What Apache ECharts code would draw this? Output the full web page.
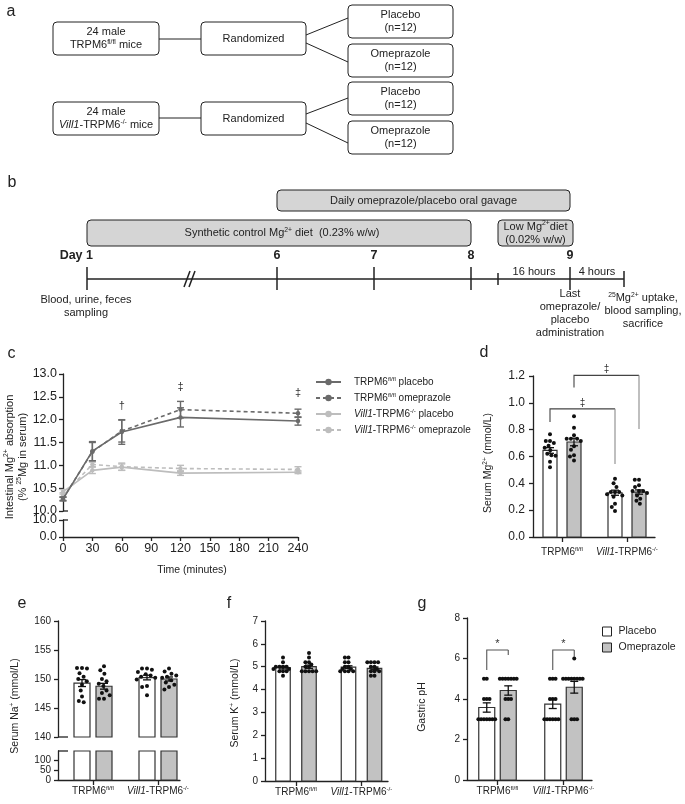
<!DOCTYPE html>
<html>
<head>
<meta charset="utf-8">
<title>TRPM6 omeprazole figure</title>
<script src="https://cdn.jsdelivr.net/npm/echarts@6.0.0/dist/echarts.min.js"></script>
<style>
html,body{margin:0;padding:0;background:#ffffff;}
#chart{width:685px;height:804px;}
</style>
</head>
<body>
<div id="chart"></div>
<script>
// ================= DATA =================
// Panel c: intestinal 25Mg absorption over time
const timePoints     = [0, 30, 60, 120, 240];
const ctrlPlaceboAbs = [10.26, 11.31, 11.73, 12.05, 11.97];
const ctrlPlaceboSem = [0.04, 0.21, 0.27, 0.21, 0.09];
const ctrlOmepAbs    = [10.27, 11.30, 11.75, 12.22, 12.14];
const ctrlOmepSem    = [0.04, 0.20, 0.24, 0.18, 0.09];
const vilPlaceboAbs  = [10.42, 10.89, 10.96, 10.83, 10.85];
const vilPlaceboSem  = [0.05, 0.07, 0.07, 0.05, 0.03];
const vilOmepAbs     = [10.35, 11.02, 10.97, 10.93, 10.91];
const vilOmepSem     = [0.05, 0.05, 0.08, 0.07, 0.06];
const absMarkTimes   = [60, 120, 240];
const absMarkLevels  = [12.30, 12.72, 12.58];
const absMarkSymbols = ['\u2020', '\u2021', '\u2021'];

// Genotype category labels (rich text)
const genotypeLabels = ['{n|TRPM6}{sup|fl/fl}', '{i|Vill1}{n|-TRPM6}{sup|-/-}'];

// Panel d: serum Mg2+
const mgPlaceboMean = [0.645, 0.330];
const mgOmepMean    = [0.708, 0.335];
const mgPlaceboSem  = [0.021, 0.019];
const mgOmepSem     = [0.028, 0.016];
const mgPlaceboDots = [
  [0.765, 0.715, 0.715, 0.70, 0.68, 0.666, 0.646, 0.62, 0.61, 0.605, 0.56, 0.52],
  [0.435, 0.40, 0.373, 0.335, 0.335, 0.335, 0.318, 0.31, 0.30, 0.248, 0.224, 0.194]
];
const mgOmepDots = [
  [0.90, 0.815, 0.758, 0.733, 0.733, 0.733, 0.715, 0.676, 0.65, 0.61, 0.60, 0.571],
  [0.427, 0.427, 0.385, 0.373, 0.343, 0.343, 0.343, 0.328, 0.31, 0.286, 0.27, 0.248]
];
const mgBrackets = [
  {from: [0, 'p'], to: [1, 'p'], top: 0.955, left: 0.857, right: 0.545, labelAt: 0.995, label: '\u2021'},
  {from: [0, 'o'], to: [1, 'o'], top: 1.205, left: 1.115, right: 0.805, labelAt: 1.252, label: '\u2021'}
];

// Panel e: serum Na+
const naPlaceboMean = [149.3, 150.25];
const naOmepMean    = [148.75, 150.0];
const naPlaceboSem  = [0.6, 0.4];
const naOmepSem     = [0.5, 0.35];
const naPlaceboDots = [
  [151.9, 151.9, 151.8, 151.0, 150.4, 150.0, 149.6, 149.0, 148.0, 147.0, 146.2, 146.0],
  [151.8, 151.8, 151.6, 151.2, 150.8, 150.6, 150.4, 150.2, 149.9, 148.8, 148.6, 147.2]
];
const naOmepDots = [
  [152.2, 151.5, 150.9, 150.0, 149.6, 149.2, 148.8, 148.0, 147.6, 147.2, 146.6, 146.6],
  [151.8, 151.3, 150.9, 150.6, 150.4, 150.2, 150.0, 149.8, 149.4, 149.0, 148.6, 148.2]
];

// Panel f: serum K+
const kPlaceboMean = [4.96, 4.98];
const kOmepMean    = [5.00, 4.93];
const kPlaceboSem  = [0.06, 0.06];
const kOmepSem     = [0.07, 0.06];
const kPlaceboDots = [
  [5.4, 5.2, 5.0, 5.0, 5.0, 5.0, 4.9, 4.9, 4.8, 4.8, 4.8, 4.6],
  [5.4, 5.4, 5.2, 5.2, 5.0, 5.0, 4.9, 4.9, 4.8, 4.8, 4.8, 4.8]
];
const kOmepDots = [
  [5.6, 5.4, 5.2, 5.2, 5.1, 5.0, 5.0, 4.8, 4.8, 4.8, 4.8, 4.8],
  [5.2, 5.2, 5.2, 5.2, 5.0, 5.0, 4.9, 4.8, 4.8, 4.8, 4.6, 4.6]
];

// Panel g: gastric pH
const phPlaceboMean = [3.58, 3.75];
const phOmepMean    = [4.42, 4.58];
const phPlaceboSem  = [0.23, 0.22];
const phOmepSem     = [0.23, 0.29];
const phPlaceboDots = [
  [5, 5, 4, 4, 4, 3, 3, 3, 3, 3, 3, 3],
  [5, 5, 5, 4, 4, 4, 3, 3, 3, 3, 3, 3]
];
const phOmepDots = [
  [5, 5, 5, 5, 5, 5, 5, 4, 4, 4, 3, 3],
  [6, 5, 5, 5, 5, 5, 5, 5, 5, 3, 3, 3]
];
const phBrackets = [
  {from: [0, 'p'], to: [0, 'o'], top: 6.42, left: 5.43, right: 6.17, labelAt: 6.70, label: '*'},
  {from: [1, 'p'], to: [1, 'o'], top: 6.42, left: 5.43, right: 6.07, labelAt: 6.70, label: '*'}
];

// ================= STYLE / LAYOUT =================
const FONT = '"Liberation Sans", Arial, Helvetica, sans-serif';
const INK = '#222222';
const DARK = '#6b6b6b';
const LIGHT = '#bdbdbd';
const OMEP_FILL = '#c2c2c2';
const BOX_FILL = '#d5d5d5';

function richSet(size) {
  const lh = Math.round(size * 1.2);
  const base = {fontSize: size, fontFamily: FONT, color: INK, fill: INK, lineHeight: lh};
  return {
    n: Object.assign({}, base),
    i: Object.assign({}, base, {fontStyle: 'italic'}),
    b: Object.assign({}, base, {fontWeight: 'bold'}),
    sup: {fontSize: +(size * 0.62).toFixed(1), fontFamily: FONT, color: INK, fill: INK,
          lineHeight: Math.round(size * 0.5), verticalAlign: 'top'}
  };
}

const grids = [
  {left: 63,  top: 374, width: 235, height: 137}, // 0 c upper
  {left: 63,  top: 520, width: 235, height: 17},  // 1 c lower
  {left: 533, top: 376, width: 122, height: 161}, // 2 d
  {left: 58,  top: 621, width: 122, height: 116}, // 3 e upper
  {left: 58,  top: 751, width: 122, height: 29},  // 4 e lower
  {left: 265, top: 621, width: 123, height: 160}, // 5 f
  {left: 467, top: 618, width: 125, height: 162}  // 6 g
];
const geomD = {grid: 2, g0: 29,   unit: 65,   sep: 12,   barW: 14,   dx: 4.2, dy: 5};
const geomE = {grid: 3, g0: 35,   unit: 65,   sep: 11,   barW: 16,   dx: 5,   dy: 6};
const geomF = {grid: 5, g0: 31,   unit: 65.5, sep: 13,   barW: 14.5, dx: 3.6, dy: 3};
const geomG = {grid: 6, g0: 30.5, unit: 66,   sep: 10.75, barW: 16,  dx: 2.8, dy: 3};

// ================= HELPERS =================
function swarm(values, pxPerY, dx, dy) {
  const order = values.map((v, i) => i).sort((a, b) => values[b] - values[a]);
  const placed = [];
  const res = new Array(values.length).fill(0);
  order.forEach(i => {
    const y = values[i] * pxPerY;
    const cands = [0];
    placed.forEach(p => {
      const t = (p.y - y) / dy;
      if (Math.abs(t) < 1) {
        const w = dx * Math.sqrt(1 - t * t);
        cands.push(p.x + w, p.x - w);
      }
    });
    cands.sort((a, b) => (Math.abs(a) - Math.abs(b)) || (a - b));
    let chosen = cands[cands.length - 1];
    for (const c of cands) {
      const ok = placed.every(p => {
        const ex = (p.x - c) / dx, ey = (p.y - y) / dy;
        return ex * ex + ey * ey >= 0.999;
      });
      if (ok) { chosen = c; break; }
    }
    placed.push({x: chosen, y: y});
    res[i] = chosen;
  });
  return res;
}

function barItem(fill, barW, base, cap) {
  return function (params, api) {
    const x = api.value(0);
    let v = api.value(1);
    if (cap != null) v = Math.min(v, cap);
    const p0 = api.coord([x, base]);
    const p1 = api.coord([x, v]);
    return {type: 'rect', shape: {x: p0[0] - barW / 2, y: p1[1], width: barW, height: p0[1] - p1[1]},
            style: {fill: fill, stroke: '#333', lineWidth: 1.2}};
  };
}

function errItem(color, capHalf, lw) {
  return function (params, api) {
    const x = api.value(0), m = api.value(1), s = api.value(2);
    const top = api.coord([x, m + s]), bot = api.coord([x, m - s]);
    const st = {stroke: color, lineWidth: lw};
    return {type: 'group', children: [
      {type: 'line', shape: {x1: top[0], y1: top[1], x2: bot[0], y2: bot[1]}, style: st},
      {type: 'line', shape: {x1: top[0] - capHalf, y1: top[1], x2: top[0] + capHalf, y2: top[1]}, style: st},
      {type: 'line', shape: {x1: bot[0] - capHalf, y1: bot[1], x2: bot[0] + capHalf, y2: bot[1]}, style: st}
    ]};
  };
}

function barPanelSeries(geom, pMean, oMean, pSem, oSem, pDots, oDots, names, opts) {
  opts = opts || {};
  const gi = geom.grid;
  const g = grids[gi];
  const ax = opts.yRange;
  const pxPerY = g.height / (ax[1] - ax[0]);
  const off = geom.sep / geom.unit;
  const px = [0, 1].map(k => k - off);
  const ox = [0, 1].map(k => k + off);
  const base = ax[0];
  const out = [];
  const mkBar = (name, xs, means, fill, idx, b, cap) => ({
    type: 'custom', name: name, xAxisIndex: idx, yAxisIndex: idx, z: 2, silent: true,
    itemStyle: {color: fill, borderColor: '#333'},
    data: xs.map((x, i) => [x, means[i]]),
    renderItem: barItem(fill, geom.barW, b, cap)
  });
  out.push(mkBar(names[0], px, pMean, '#ffffff', gi, base, null));
  out.push(mkBar(names[1], ox, oMean, OMEP_FILL, gi, base, null));
  if (opts.lower) {
    out.push(mkBar(names[0] + ' (lower)', px, pMean, '#ffffff', opts.lower.grid, 0, opts.lower.max));
    out.push(mkBar(names[1] + ' (lower)', ox, oMean, OMEP_FILL, opts.lower.grid, 0, opts.lower.max));
  }
  const dots = [];
  [[pDots, px], [oDots, ox]].forEach(pair => {
    const set = pair[0], xs = pair[1];
    set.forEach((vals, k) => {
      const offs = swarm(vals, pxPerY, geom.dx, geom.dy);
      vals.forEach((v, j) => dots.push([xs[k] + offs[j] / geom.unit, v]));
    });
  });
  out.push({type: 'scatter', xAxisIndex: gi, yAxisIndex: gi, z: 3, silent: true,
            symbol: 'circle', symbolSize: 4, itemStyle: {color: '#111', opacity: 1},
            data: dots});
  const errs = [];
  px.forEach((x, i) => errs.push([x, pMean[i], pSem[i]]));
  ox.forEach((x, i) => errs.push([x, oMean[i], oSem[i]]));
  out.push({type: 'custom', xAxisIndex: gi, yAxisIndex: gi, z: 4, silent: true,
            data: errs, renderItem: errItem('#111', 4, 1.3)});
  return out;
}

function bracketSeries(geom, brackets, color, rightColor, size) {
  const gi = geom.grid;
  const off = geom.sep / geom.unit;
  const pos = ref => ref[0] + (ref[1] === 'p' ? -off : off);
  return {
    type: 'custom', xAxisIndex: gi, yAxisIndex: gi, z: 5, silent: true, clip: false,
    data: brackets.map(b => [pos(b.from), pos(b.to), b.top, b.left, b.right, b.labelAt]),
    renderItem: function (params, api) {
      const x1 = api.value(0), x2 = api.value(1), top = api.value(2);
      const a = api.coord([x1, top]), b = api.coord([x2, top]);
      const aL = api.coord([x1, api.value(3)]), bR = api.coord([x2, api.value(4)]);
      const lab = api.coord([(x1 + x2) / 2, api.value(5)]);
      return {type: 'group', children: [
        {type: 'polyline', shape: {points: [aL, a, b]}, style: {stroke: color, lineWidth: 1.1, fill: 'none'}},
        {type: 'line', shape: {x1: b[0], y1: b[1], x2: bR[0], y2: bR[1]}, style: {stroke: rightColor, lineWidth: 1.1}},
        {type: 'text', x: lab[0], y: lab[1], style: {text: brackets[params.dataIndex].label, fontSize: size,
          fontFamily: FONT, fill: '#333', align: 'center', verticalAlign: 'middle'}}
      ]};
    }
  };
}

const axLine = {show: true, onZero: false, lineStyle: {color: INK, width: 1.3}};
const axTickStyle = {color: INK, width: 1.3};

function barXAxis(geom, margin) {
  const g = grids[geom.grid];
  return {
    type: 'value', gridIndex: geom.grid,
    min: -geom.g0 / geom.unit, max: (g.width - geom.g0) / geom.unit,
    axisLine: axLine,
    axisTick: {show: true, customValues: [0, 1], length: 5, lineStyle: axTickStyle},
    axisLabel: {show: true, customValues: [0, 1], margin: margin,
                formatter: v => genotypeLabels[Math.round(v)], rich: richSet(10),
                color: INK, fontSize: 10, fontFamily: FONT},
    splitLine: {show: false}
  };
}
function hiddenX(gi, min, max) {
  return {type: 'value', gridIndex: gi, min: min, max: max, show: false, splitLine: {show: false}};
}
function yAx(gi, min, max, interval, size, margin, dec, extra) {
  const a = {
    type: 'value', gridIndex: gi, min: min, max: max, interval: interval,
    axisLine: axLine,
    axisTick: {show: true, length: 4, lineStyle: axTickStyle},
    axisLabel: {show: true, color: INK, fontSize: size, fontFamily: FONT, margin: margin,
                formatter: v => (dec == null ? String(Math.round(v)) : v.toFixed(dec))},
    splitLine: {show: false}
  };
  if (extra) {
    if (extra.ticks) { a.axisTick.customValues = extra.ticks; a.axisLabel.customValues = extra.ticks; delete a.interval; }
  }
  return a;
}

// ================= GRAPHIC (panels a, b, titles) =================
const G = [];
function gBox(x, y, w, h, fill) {
  G.push({type: 'rect', z: 10, shape: {x: x, y: y, width: w, height: h, r: 4},
          style: {fill: fill || '#ffffff', stroke: INK, lineWidth: 1}});
}
function gLine(x1, y1, x2, y2, w) {
  G.push({type: 'line', z: 11, shape: {x1: x1, y1: y1, x2: x2, y2: y2}, style: {stroke: INK, lineWidth: w || 1}});
}
function gText(x, y, text, size, o) {
  o = o || {};
  G.push({type: 'text', z: 12, x: x, y: y, rotation: o.rotation || 0,
          style: {text: text, rich: richSet(size), fontSize: size, fontFamily: FONT,
                  fontWeight: o.bold ? 'bold' : 'normal', fill: INK,
                  align: o.align || 'center', verticalAlign: o.va || 'middle'}});
}

// Panel a
gText(11, 12, 'a', 16);
gBox(53, 22, 106, 33); gText(106, 38.5, '{n|24 male}\n{n|TRPM6}{sup|fl/fl}{n| mice}', 11);
gLine(159, 39, 201, 39);
gBox(201, 22, 105, 33); gText(253.5, 38.5, '{n|Randomized}', 11);
gLine(306, 35, 348, 18); gLine(306, 43, 348, 62);
gBox(348, 5, 105, 33);  gText(400.5, 21.5, '{n|Placebo}\n{n|(n=12)}', 11);
gBox(348, 44, 105, 33); gText(400.5, 60.5, '{n|Omeprazole}\n{n|(n=12)}', 11);
gBox(53, 102, 106, 33); gText(106, 118.5, '{n|24 male}\n{i|Vill1}{n|-TRPM6}{sup|-/-}{n| mice}', 11);
gLine(159, 118, 201, 118);
gBox(201, 102, 105, 33); gText(253.5, 118.5, '{n|Randomized}', 11);
gLine(306, 114, 348, 98); gLine(306, 123, 348, 143);
gBox(348, 82, 105, 33);  gText(400.5, 98.5, '{n|Placebo}\n{n|(n=12)}', 11);
gBox(348, 121, 105, 33); gText(400.5, 137.5, '{n|Omeprazole}\n{n|(n=12)}', 11);

// Panel b
gText(12, 183, 'b', 16);
gBox(277, 190, 293, 21, BOX_FILL); gText(423.5, 200.5, '{n|Daily omeprazole/placebo oral gavage}', 11);
gBox(87, 220, 384, 26, BOX_FILL);  gText(282, 233, '{n|Synthetic control Mg}{sup|2+}{n| diet  (0.23% w/w)}', 11);
gBox(498, 220, 75, 26, BOX_FILL);  gText(535.5, 233, '{n|Low Mg}{sup|2+}{n|diet}\n{n|(0.02% w/w)}', 11);
gText(93, 256, 'Day 1', 12.5, {bold: true, align: 'right'});
[[277, '6'], [374, '7'], [471, '8'], [570, '9']].forEach(d => gText(d[0], 256, d[1], 12.5, {bold: true}));
gLine(87, 279, 624, 279, 1.5);
[87, 277, 374, 471, 570].forEach(x => gLine(x, 267, x, 290, 1.5));
gLine(498, 273, 498, 285, 1.5);
gLine(624, 271, 624, 287, 1.5);
gLine(184, 287, 190, 271, 1.5); gLine(189, 287, 195, 271, 1.5);
gText(534, 272, '{n|16 hours}', 11);
gText(597, 272, '{n|4 hours}', 11);
gText(86, 306, '{n|Blood, urine, feces}\n{n|sampling}', 11);
gText(570, 313, '{n|Last}\n{n|omeprazole/}\n{n|placebo}\n{n|administration}', 11);
gText(643, 311, '{sup|25}{n|Mg}{sup|2+}{n| uptake,}\n{n|blood sampling,}\n{n|sacrifice}', 11);

// Panel labels and axis titles
gText(11.5, 354, 'c', 16);
gText(484, 353, 'd', 16);
gText(22, 604, 'e', 16);
gText(229, 604, 'f', 16);
gText(422, 604, 'g', 16);
gText(16, 457, '{n|Intestinal Mg}{sup|2+}{n| absorption}\n{n|(% }{sup|25}{n|Mg in serum)}', 11, {rotation: Math.PI / 2});
gText(192, 570, '{n|Time (minutes)}', 10.5);
gText(488, 463, '{n|Serum Mg}{sup|2+}{n| (mmol/L)}', 10.5, {rotation: Math.PI / 2});
gText(15, 706, '{n|Serum Na}{sup|+}{n| (mmol/L)}', 10.5, {rotation: Math.PI / 2});
gText(235, 703, '{n|Serum K}{sup|+}{n| (mmol/L)}', 10.5, {rotation: Math.PI / 2});
gText(422, 707, '{n|Gastric pH}', 10.5, {rotation: Math.PI / 2});
// axis-break marks
gLine(63, 511, 68, 511, 1.3); gLine(63, 520, 68, 520, 1.3);
gLine(58, 737, 68, 737, 1.3); gLine(58, 751, 68, 751, 1.3);

// ================= SERIES =================
const absDefs = [
  {name: 'TRPM6fl/fl placebo',        vals: ctrlPlaceboAbs, sem: ctrlPlaceboSem, color: DARK,  dash: 'solid', z: 6},
  {name: 'TRPM6fl/fl omeprazole',     vals: ctrlOmepAbs,    sem: ctrlOmepSem,    color: DARK,  dash: [4, 3],  z: 6},
  {name: 'Vill1-TRPM6-/- placebo',    vals: vilPlaceboAbs,  sem: vilPlaceboSem,  color: LIGHT, dash: 'solid', z: 4},
  {name: 'Vill1-TRPM6-/- omeprazole', vals: vilOmepAbs,     sem: vilOmepSem,     color: LIGHT, dash: [4, 3],  z: 4}
];
const legendText = {
  'TRPM6fl/fl placebo': '{n|TRPM6}{sup|fl/fl}{n| placebo}',
  'TRPM6fl/fl omeprazole': '{n|TRPM6}{sup|fl/fl}{n| omeprazole}',
  'Vill1-TRPM6-/- placebo': '{i|Vill1}{n|-TRPM6}{sup|-/-}{n| placebo}',
  'Vill1-TRPM6-/- omeprazole': '{i|Vill1}{n|-TRPM6}{sup|-/-}{n| omeprazole}'
};

const series = [];
absDefs.slice().reverse().forEach(d => {
  series.push({
    type: 'line', name: d.name, xAxisIndex: 0, yAxisIndex: 0, z: d.z,
    data: timePoints.map((t, i) => [t, d.vals[i]]),
    symbol: 'circle', symbolSize: 4.5, showSymbol: true, silent: true,
    itemStyle: {color: d.color}, lineStyle: {color: d.color, width: 1.6, type: d.dash}
  });
  series.push({
    type: 'custom', xAxisIndex: 0, yAxisIndex: 0, z: d.z, silent: true, clip: false,
    data: timePoints.map((t, i) => [t, d.vals[i], d.sem[i]]),
    renderItem: errItem(d.color, 3.5, 1.4)
  });
});
series.push({
  type: 'custom', xAxisIndex: 0, yAxisIndex: 0, z: 7, silent: true, clip: false,
  data: absMarkTimes.map((t, i) => [t, absMarkLevels[i]]),
  renderItem: function (params, api) {
    const p = api.coord([api.value(0), api.value(1)]);
    return {type: 'text', x: p[0], y: p[1], style: {text: absMarkSymbols[params.dataIndex], fontSize: 11,
            fontFamily: FONT, fill: '#333', align: 'center', verticalAlign: 'middle'}};
  }
});

barPanelSeries(geomD, mgPlaceboMean, mgOmepMean, mgPlaceboSem, mgOmepSem, mgPlaceboDots, mgOmepDots,
  ['Mg placebo', 'Mg omeprazole'], {yRange: [0, 1.2]}).forEach(s => series.push(s));
series.push(bracketSeries(geomD, mgBrackets, '#444', '#8a8a8a', 10));

barPanelSeries(geomE, naPlaceboMean, naOmepMean, naPlaceboSem, naOmepSem, naPlaceboDots, naOmepDots,
  ['Na placebo', 'Na omeprazole'], {yRange: [140, 160], lower: {grid: 4, max: 145}}).forEach(s => series.push(s));

barPanelSeries(geomF, kPlaceboMean, kOmepMean, kPlaceboSem, kOmepSem, kPlaceboDots, kOmepDots,
  ['K placebo', 'K omeprazole'], {yRange: [0, 7]}).forEach(s => series.push(s));

barPanelSeries(geomG, phPlaceboMean, phOmepMean, phPlaceboSem, phOmepSem, phPlaceboDots, phOmepDots,
  ['Placebo', 'Omeprazole'], {yRange: [0, 8]}).forEach(s => series.push(s));
series.push(bracketSeries(geomG, phBrackets, '#555', '#555', 11));

// ================= OPTION =================
const option = {
  animation: false,
  backgroundColor: '#ffffff',
  textStyle: {fontFamily: FONT},
  grid: grids.map(g => Object.assign({containLabel: false, outerBoundsMode: 'none'}, g)),
  xAxis: [
    hiddenX(0, 0, 240),
    {type: 'value', gridIndex: 1, min: 0, max: 240, interval: 30,
     axisLine: axLine, axisTick: {show: true, length: 4, lineStyle: axTickStyle},
     axisLabel: {show: true, color: INK, fontSize: 12.5, fontFamily: FONT, margin: 5},
     splitLine: {show: false}},
    barXAxis(geomD, 9),
    hiddenX(3, -geomE.g0 / geomE.unit, (grids[3].width - geomE.g0) / geomE.unit),
    barXAxis(Object.assign({}, geomE, {grid: 4}), 5),
    barXAxis(geomF, 5),
    barXAxis(geomG, 5)
  ],
  yAxis: [
    yAx(0, 10, 13, 0.5, 12.5, 6, 1),
    yAx(1, 0, 10, 10, 12.5, 6, 1),
    yAx(2, 0, 1.2, 0.2, 12, 8, 1),
    yAx(3, 140, 160, 5, 10, 7, null),
    yAx(4, 0, 145, 50, 10, 7, null, {ticks: [0, 50, 100]}),
    yAx(5, 0, 7, 1, 10, 7, null),
    yAx(6, 0, 8, 2, 10, 7, null)
  ],
  legend: [
    {
      orient: 'vertical', left: 315, top: 376, padding: 0, itemWidth: 25, itemHeight: 8, itemGap: 5,
      selectedMode: false, data: absDefs.map(d => d.name),
      formatter: n => legendText[n],
      textStyle: {fontSize: 10, color: INK, fontFamily: FONT, rich: richSet(10), padding: [0, 0, 0, 8]}
    },
    {
      orient: 'vertical', left: 602, top: 626, padding: 0, itemWidth: 9, itemHeight: 9, itemGap: 5,
      selectedMode: false,
      data: [
        {name: 'Placebo', icon: 'rect', itemStyle: {color: '#ffffff', borderColor: INK, borderWidth: 1}},
        {name: 'Omeprazole', icon: 'rect', itemStyle: {color: OMEP_FILL, borderColor: INK, borderWidth: 1}}
      ],
      textStyle: {fontSize: 10.5, color: INK, fontFamily: FONT, padding: [0, 0, 0, 2]}
    }
  ],
  graphic: {elements: G},
  series: series
};

const chart = echarts.init(document.getElementById('chart'), null, {renderer: 'canvas'});
chart.setOption(option);
</script>
</body>
</html>
